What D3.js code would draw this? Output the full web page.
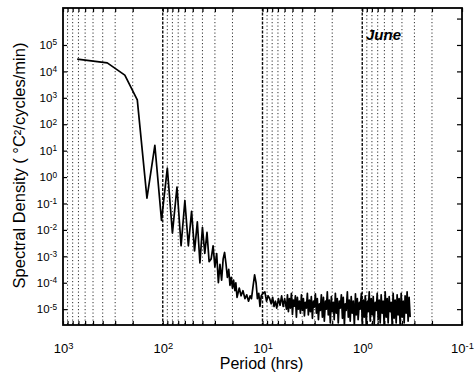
<!DOCTYPE html>
<html>
<head>
<meta charset="utf-8">
<script src="https://cdn.jsdelivr.net/npm/d3@7"></script>
<style>
  body { margin: 0; background: #fff; }
  svg { display: block; font-family: "Liberation Sans", Arial, Helvetica, sans-serif; }
</style>
</head>
<body>
<div id="chart"></div>
<script>
let width = 474,
    height = 372,
    margin = ({ top: 8, right: 12, bottom: 47, left: 63 }); // plot box 63..462 x 8..325

// period (hrs) of each spectral estimate, long periods first
const periodHrs = [
  720, 360, 240, 180, 144, 120, 102.9, 90, 80, 72, 65.5, 60,
  55.4, 51.4, 48.0, 45.0, 42.4, 40.0, 37.9, 36.0, 34.3, 32.7, 31.3, 30.0,
  28.8, 27.7, 26.7, 25.7, 24.8, 24.0, 23.2, 22.5, 21.8, 21.2, 20.6, 20.0,
  19.5, 18.9, 18.5, 18.0, 17.1, 16.4, 15.7, 15.0, 14.4, 13.8, 13.3, 12.9,
  12.4, 12.0, 11.6, 11.25, 10.9, 10.6, 10.3, 9.86, 9.47, 9.11, 8.78, 8.47,
  8.18, 7.91, 7.66, 7.42, 7.2, 6.92, 6.67, 6.43, 6.21, 6.0,
  5.75, 5.62, 5.50, 5.37, 5.25, 5.13, 5.01, 4.90, 4.79, 4.68,
  4.57, 4.47, 4.37, 4.27, 4.17, 4.07, 3.98, 3.89, 3.80, 3.72,
  3.63, 3.55, 3.47, 3.39, 3.31, 3.24, 3.16, 3.09, 3.02, 2.95,
  2.88, 2.82, 2.75, 2.69, 2.63, 2.57, 2.51, 2.45, 2.40, 2.34,
  2.29, 2.24, 2.19, 2.14, 2.09, 2.04, 2.00, 1.95, 1.91, 1.86,
  1.82, 1.78, 1.74, 1.70, 1.66, 1.62, 1.58, 1.55, 1.51, 1.48,
  1.45, 1.41, 1.38, 1.35, 1.32, 1.29, 1.26, 1.23, 1.20, 1.17,
  1.15, 1.12, 1.10, 1.07, 1.05, 1.02, 1.00, 0.977, 0.955, 0.933,
  0.912, 0.891, 0.871, 0.851, 0.832, 0.813, 0.794, 0.776, 0.759, 0.741,
  0.724, 0.708, 0.692, 0.676, 0.661, 0.646, 0.631, 0.617, 0.603, 0.589,
  0.575, 0.562, 0.550, 0.537, 0.525, 0.513, 0.501, 0.490, 0.479, 0.468,
  0.457, 0.447, 0.437, 0.427, 0.417, 0.407, 0.398, 0.389, 0.380, 0.372,
  0.363, 0.355, 0.347, 0.339, 0.331
];

// spectral density (degC^2/cycles/min)
const density = [
  2.9e4, 2.1e4, 7.2e3, 830, 0.16, 16, 0.023, 2.2, 0.0076, 0.42, 0.0025, 0.13,
  0.0025, 0.05, 0.0016, 0.02, 5.6e-4, 0.0126, 0.0013, 0.008, 6.3e-4, 8e-4, 0.0025, 4e-4,
  0.00126, 1e-4, 5e-4, 1.26e-4, 8e-4, 1.4e-3, 5e-4, 1.6e-4, 3.2e-4, 8e-5, 1.6e-4, 6.3e-5,
  1.26e-4, 5e-5, 1e-4, 2.8e-5, 6.3e-5, 3.2e-5, 5e-5, 2.5e-5, 3.5e-5, 2e-5, 3.2e-5, 2.5e-5,
  8e-5, 2e-4, 1e-4, 2.5e-5, 4e-5, 1.26e-5, 3.2e-5, 4e-5, 4.5e-5, 2e-5, 3.2e-5, 2.5e-5,
  1.6e-5, 2.8e-5, 1.26e-5, 2e-5, 1.1e-5, 2.5e-5, 1.4e-5, 3.2e-5, 1.26e-5, 2.5e-5,
  1.0e-5, 3.5e-5, 8e-6, 2.5e-5, 1.1e-5, 4e-5, 6.3e-6, 2.2e-5, 1.3e-5, 3.2e-5,
  5e-6, 2.8e-5, 1e-5, 2e-5, 7e-6, 3.5e-5, 9e-6, 2.5e-5, 5.5e-6, 1.8e-5,
  1.1e-5, 4e-5, 6e-6, 2.2e-5, 8e-6, 3e-5, 4.5e-6, 2e-5, 1.2e-5, 3.8e-5,
  7e-6, 2.5e-5, 4e-6, 1.6e-5, 9e-6, 3.5e-5, 5e-6, 2.8e-5, 3.5e-6, 2e-5,
  1e-5, 4.5e-5, 6e-6, 2.2e-5, 3e-6, 3e-5, 8e-6, 1.8e-5, 4e-6, 4e-5,
  7e-6, 2.5e-5, 3e-6, 2e-5, 1.1e-5, 3.5e-5, 4.5e-6, 2.8e-5, 2.5e-6, 1.6e-5,
  9e-6, 4.5e-5, 5e-6, 2.2e-5, 3.5e-6, 3e-5, 7e-6, 2e-5, 2.5e-6, 3.8e-5,
  6e-6, 2.5e-5, 4e-6, 1.8e-5, 1e-5, 4e-5, 3e-6, 2.2e-5, 5e-6, 3.2e-5,
  2.5e-6, 2e-5, 8e-6, 4.5e-5, 3.5e-6, 2.5e-5, 6e-6, 3e-5, 2.5e-6, 1.8e-5,
  9e-6, 4e-5, 4e-6, 2.2e-5, 3e-6, 3.5e-5, 7e-6, 2e-5, 2.5e-6, 4.5e-5,
  5e-6, 2.5e-5, 3e-6, 3e-5, 8e-6, 1.8e-5, 2.5e-6, 4e-5, 4.5e-6, 2.2e-5,
  3e-6, 3.5e-5, 6e-6, 2.5e-5, 2.5e-6, 4e-5, 5e-6, 2e-5, 3e-6, 3.2e-5,
  7e-6, 4.5e-5, 3.5e-6, 2.8e-5, 5e-6
];

const xDecades = [3, 2, 1, 0, -1];                      // tick labels 10^n
const yDecades = [-5, -4, -3, -2, -1, 0, 1, 2, 3, 4, 5];
const panelLabel = "June";

const data = periodHrs.map((p, i) => ({ period: p, value: density[i] }));

const svg = d3.select("#chart")
  .append("svg")
  .attr("width", width)
  .attr("height", height);

let x = d3.scaleLog()
  .domain([1000, 0.1])
  .range([margin.left, width - margin.right]);

let y = d3.scaleLog()
  .domain([Math.pow(10, -5.6), Math.pow(10, 6.4)])
  .range([height - margin.bottom, margin.top]);

const pTop = margin.top, pBottom = height - margin.bottom,
      pLeft = margin.left, pRight = width - margin.right;

// dotted vertical grid (every 1..9 x 10^n)
const isDecade = d => Math.abs(Math.log10(d) - Math.round(Math.log10(d))) < 1e-9;
const gridTicks = x.ticks().filter(d => d < 1000 && d > 0.1);

svg.append("g")
  .selectAll("line")
  .data(gridTicks)
  .join("line")
  .attr("x1", d => x(d)).attr("x2", d => x(d))
  .attr("y1", pTop).attr("y2", pBottom)
  .attr("stroke", "#000")
  .attr("stroke-width", d => isDecade(d) ? 1.4 : 1)
  .attr("stroke-dasharray", d => isDecade(d) ? "3,1.5" : "1.2,2.3")
  .attr("opacity", d => isDecade(d) ? 0.95 : 0.8);

function powLabel(sel, fontSize) {
  sel.each(function(d) {
    const t = d3.select(this);
    const e = Math.round(Math.log10(d));
    t.text(null);
    t.append("tspan").text("10");
    t.append("tspan").attr("dy", "-0.45em").attr("font-size", fontSize * 0.72 + "px").text(e);
  });
}

// bottom axis
const xb = svg.append("g")
  .attr("transform", `translate(0,${pBottom})`)
  .call(d3.axisBottom(x).tickValues(x.ticks()).tickSize(-4).tickPadding(19)
    .tickFormat(d => isDecade(d) ? "1" : ""));
xb.select(".domain").remove();
xb.selectAll("text").filter(d => isDecade(d))
  .attr("font-size", "13px").attr("fill", "#000")
  .call(powLabel, 13);

// top axis (ticks only)
const xt = svg.append("g")
  .attr("transform", `translate(0,${pTop})`)
  .call(d3.axisTop(x).tickValues(x.ticks()).tickSize(-4).tickFormat(""));
xt.select(".domain").remove();

// left axis
const yl = svg.append("g")
  .attr("transform", `translate(${pLeft},0)`)
  .call(d3.axisLeft(y).tickValues(yDecades.map(e => Math.pow(10, e))).tickSize(-4).tickPadding(6)
    .tickFormat(d => "1"));
yl.select(".domain").remove();
yl.selectAll("text").attr("font-size", "11.5px").attr("fill", "#000").call(powLabel, 11.5);

// right axis (ticks only)
const yr = svg.append("g")
  .attr("transform", `translate(${pRight},0)`)
  .call(d3.axisRight(y).tickValues(yDecades.concat([6]).map(e => Math.pow(10, e))).tickSize(-5).tickFormat(""));
yr.select(".domain").remove();

svg.selectAll(".tick line").attr("stroke", "#000").attr("stroke-width", 1.2);

// frame
svg.append("rect")
  .attr("x", pLeft).attr("y", pTop)
  .attr("width", pRight - pLeft).attr("height", pBottom - pTop)
  .attr("fill", "none")
  .attr("stroke", "#000")
  .attr("stroke-width", 1.8);

svg.append("clipPath").attr("id", "plot")
  .append("rect")
  .attr("x", pLeft).attr("y", pTop)
  .attr("width", pRight - pLeft).attr("height", pBottom - pTop);

const line = d3.line()
  .x(d => x(d.period))
  .y(d => y(d.value));

svg.append("path")
  .datum(data)
  .attr("clip-path", "url(#plot)")
  .attr("fill", "none")
  .attr("stroke", "#000")
  .attr("stroke-width", 1.7)
  .attr("stroke-linejoin", "round")
  .attr("d", line);

// panel label
svg.append("text")
  .attr("x", 366).attr("y", 40)
  .attr("font-size", "15px")
  .attr("font-weight", "bold")
  .attr("font-style", "italic")
  .text(panelLabel);

// axis titles
svg.append("text")
  .attr("x", (pLeft + pRight) / 2 - 1)
  .attr("y", 369)
  .attr("text-anchor", "middle")
  .attr("font-size", "16px")
  .text("Period (hrs)");

svg.append("text")
  .attr("transform", `translate(25,${(pTop + pBottom) / 2 - 1}) rotate(-90)`)
  .attr("text-anchor", "middle")
  .attr("font-size", "16.5px")
  .text("Spectral Density ( °C²/cycles/min)");
</script>
</body>
</html>
